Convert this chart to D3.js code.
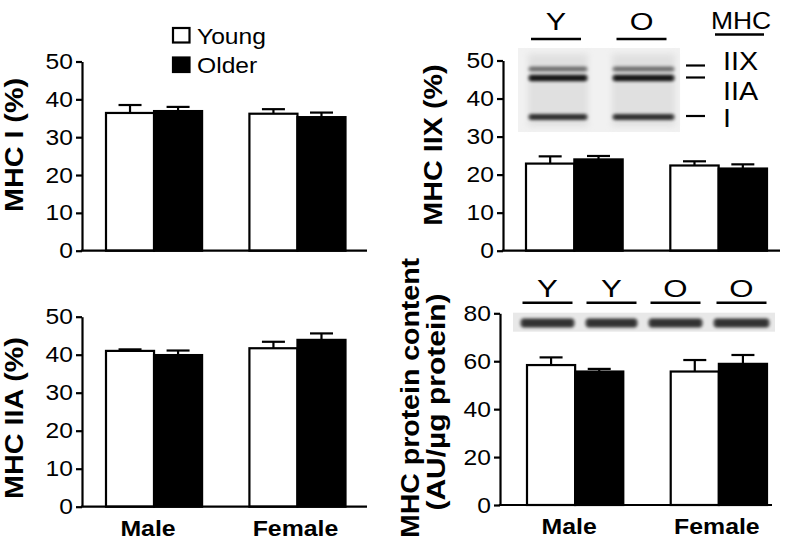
<!DOCTYPE html>
<html><head><meta charset="utf-8">
<script src="https://cdn.jsdelivr.net/npm/d3@7"></script>
<style>body{margin:0;background:#fff}svg{display:block}text{font-family:"Liberation Sans",Arial,Helvetica,sans-serif;fill:#000}</style>
</head><body><svg id="c" width="791" height="546"></svg>
<script>
// ---------- data ----------
const categories = ["Male", "Female"];
const groups = ["Young", "Older"];
const ticksPct = [0, 10, 20, 30, 40, 50];
const ticksContent = [0, 20, 40, 60, 80];

const mhcI_young = [36.4, 36.2];
const mhcI_youngSE = [2.1, 1.2];
const mhcI_older = [36.9, 35.3];
const mhcI_olderSE = [1.1, 1.2];

const mhcIIX_young = [22.9, 22.4];
const mhcIIX_youngSE = [1.9, 1.1];
const mhcIIX_older = [24.0, 21.6];
const mhcIIX_olderSE = [0.9, 1.1];

const mhcIIA_young = [41.0, 41.7];
const mhcIIA_youngSE = [0.4, 1.7];
const mhcIIA_older = [39.9, 43.9];
const mhcIIA_olderSE = [1.2, 1.7];

const content_young = [58.4, 55.7];
const content_youngSE = [3.2, 4.8];
const content_older = [55.7, 58.9];
const content_olderSE = [1.1, 3.7];

const gelTopLanes = ["Y", "O"];
const gelTopBands = ["IIX", "IIA", "I"];
const gelBottomLanes = ["Y", "Y", "O", "O"];

// ---------- helpers ----------
const svg = d3.select("#c");
const FONT = '"Liberation Sans", Arial, Helvetica, sans-serif';
function txt(x, y, s, o) {
  o = o || {};
  return svg.append("text")
    .attr("transform", `translate(${x},${y}) rotate(${o.rot || 0}) scale(${o.sx || 1.13},1)`)
    .attr("text-anchor", o.anchor || "start")
    .attr("font-size", o.size || 22)
    .attr("font-weight", o.weight || "normal")
    .text(s);
}

const defs = svg.append("defs");
defs.append("filter").attr("id", "blur").attr("x", "-20%").attr("y", "-150%").attr("width", "140%").attr("height", "400%")
  .append("feGaussianBlur").attr("stdDeviation", 1.6);
defs.append("filter").attr("id", "blur2").attr("x", "-20%").attr("y", "-20%").attr("width", "140%").attr("height", "140%")
  .append("feGaussianBlur").attr("stdDeviation", 3);
const lg = defs.append("linearGradient").attr("id", "bandGrad").attr("x1", 0).attr("x2", 1).attr("y1", 0).attr("y2", 0);
[[0, 0.55], [0.06, 1], [0.94, 1], [1, 0.55]].forEach(s => lg.append("stop").attr("offset", s[0]).attr("stop-color", "#000").attr("stop-opacity", s[1]));

function panel(p) {
  const y = d3.scaleLinear().domain([0, p.max]).range([p.y0, p.yTop]);
  const x = d3.scaleBand().domain(categories).range([p.bx0, p.bx1]).paddingInner(0.33).paddingOuter(0);
  const xs = d3.scaleBand().domain(groups).range([0, x.bandwidth()]);
  const g = svg.append("g");

  const rows = [];
  categories.forEach((c, i) => {
    rows.push({c, grp: "Young", v: p.young[i], se: p.youngSE[i]});
    rows.push({c, grp: "Older", v: p.older[i], se: p.olderSE[i]});
  });

  const eb = g.selectAll(".eb").data(rows).enter().append("g");
  eb.append("line")
    .attr("x1", d => x(d.c) + xs(d.grp) + xs.bandwidth() / 2)
    .attr("x2", d => x(d.c) + xs(d.grp) + xs.bandwidth() / 2)
    .attr("y1", d => y(d.v)).attr("y2", d => y(d.v + d.se))
    .attr("stroke", "#000").attr("stroke-width", 2.2);
  eb.append("line")
    .attr("x1", d => x(d.c) + xs(d.grp) + xs.bandwidth() / 2 - 11.5)
    .attr("x2", d => x(d.c) + xs(d.grp) + xs.bandwidth() / 2 + 11.5)
    .attr("y1", d => y(d.v + d.se)).attr("y2", d => y(d.v + d.se))
    .attr("stroke", "#000").attr("stroke-width", 2.2);

  g.selectAll(".bar").data(rows).enter().append("rect")
    .attr("x", d => x(d.c) + xs(d.grp))
    .attr("y", d => y(d.v))
    .attr("width", xs.bandwidth())
    .attr("height", d => y(0) - y(d.v))
    .attr("fill", d => d.grp === "Young" ? "#fff" : "#000")
    .attr("stroke", "#000").attr("stroke-width", 2.2);

  const ax = g.append("g").attr("transform", `translate(${p.ax},0)`)
    .call(d3.axisLeft(y).tickValues(p.ticks).tickSize(6).tickSizeOuter(0).tickPadding(3));
  ax.select(".domain").attr("stroke-width", 2.2);
  ax.selectAll(".tick line").attr("stroke-width", 2.2);
  ax.selectAll(".tick text").attr("font-size", 22).attr("font-family", FONT)
    .attr("x", -9 / 1.12).attr("transform", "scale(1.12,1)");

  g.append("line").attr("x1", p.ax - 1.1).attr("x2", p.axEnd).attr("y1", y(0)).attr("y2", y(0))
    .attr("stroke", "#000").attr("stroke-width", 2.2);

  if (p.xlabels) {
    categories.forEach(c => {
      txt(x(c) + x.bandwidth() / 2 - (c === "Male" ? 6 : 2), p.y0 + 29, c, {anchor: "middle", weight: "bold", size: 22, sx: 1.13});
    });
  }
  return {x, y, xs};
}

// ---------- panels ----------
panel({max: 50, ticks: ticksPct, y0: 250.7, yTop: 61.5, bx0: 106, bx1: 345.5, ax: 82, axEnd: 367,
  young: mhcI_young, youngSE: mhcI_youngSE, older: mhcI_older, olderSE: mhcI_olderSE});
panel({max: 50, ticks: ticksPct, y0: 250.7, yTop: 60.5, bx0: 526, bx1: 767, ax: 503, axEnd: 780,
  young: mhcIIX_young, youngSE: mhcIIX_youngSE, older: mhcIIX_older, olderSE: mhcIIX_olderSE});
panel({max: 50, ticks: ticksPct, y0: 506.7, yTop: 316.7, bx0: 106, bx1: 345.5, ax: 82, axEnd: 367, xlabels: true,
  young: mhcIIA_young, youngSE: mhcIIA_youngSE, older: mhcIIA_older, olderSE: mhcIIA_olderSE});
panel({max: 80, ticks: ticksContent, y0: 505, yTop: 313.3, bx0: 527, bx1: 767, ax: 500, axEnd: 772, xlabels: true,
  young: content_young, youngSE: content_youngSE, older: content_older, olderSE: content_olderSE});

// ---------- axis titles ----------
txt(23, 145, "MHC I (%)", {rot: -90, anchor: "middle", weight: "bold", size: 25, sx: 1.15});
txt(442, 145, "MHC IIX (%)", {rot: -90, anchor: "middle", weight: "bold", size: 25, sx: 1.15});
txt(23, 418, "MHC IIA (%)", {rot: -90, anchor: "middle", weight: "bold", size: 25, sx: 1.15});
txt(419, 398, "MHC protein content", {rot: -90, anchor: "middle", weight: "bold", size: 25, sx: 1.14});
txt(445, 402, "(AU/\u00b5g protein)", {rot: -90, anchor: "middle", weight: "bold", size: 25, sx: 1.2});

// ---------- legend ----------
groups.forEach((gname, i) => {
  const ly = 28 + i * 29.5;
  svg.append("rect").attr("x", 173).attr("y", ly).attr("width", 16.5).attr("height", 14.5)
    .attr("fill", gname === "Young" ? "#fff" : "#000").attr("stroke", "#000").attr("stroke-width", 2.2);
  txt(197, ly + 15.5, gname, {size: 22, sx: 1.12});
});

// ---------- top-right gel ----------
const gt = svg.append("g");
gt.append("rect").attr("x", 518).attr("y", 48).attr("width", 162).attr("height", 84).attr("fill", "#f1f1f1");
const laneTopX = [528, 612], laneTopW = [60, 63];
const bandTopY = [69, 78, 117], bandTopH = [5, 6.5, 6], bandTopO = [0.5, 0.9, 0.78];
gelTopLanes.forEach((l, i) => {
  gt.append("rect").attr("x", laneTopX[i]).attr("y", 54).attr("width", laneTopW[i]).attr("height", 72)
    .attr("fill", "#e0e0e0").attr("filter", "url(#blur2)");
  gelTopBands.forEach((b, j) => {
    gt.append("rect").attr("x", laneTopX[i]).attr("y", bandTopY[j] - bandTopH[j] / 2)
      .attr("width", laneTopW[i]).attr("height", bandTopH[j]).attr("rx", 3)
      .attr("fill", "url(#bandGrad)").attr("opacity", bandTopO[j]).attr("filter", "url(#blur)");
  });
  const cx = laneTopX[i] + laneTopW[i] / 2 - 2;
  txt(cx, 29.5, l, {anchor: "middle", size: 23.5, sx: 1.3});
  gt.append("line").attr("x1", cx - 25).attr("x2", cx + 25).attr("y1", 39).attr("y2", 39)
    .attr("stroke", "#000").attr("stroke-width", 2.5);
});
txt(741, 29, "MHC", {anchor: "middle", size: 23, sx: 1.15});
gt.append("line").attr("x1", 715).attr("x2", 764).attr("y1", 34.5).attr("y2", 34.5).attr("stroke", "#000").attr("stroke-width", 2.5);
const markY = [65.5, 77.5, 116];
markY.forEach(my => gt.append("line").attr("x1", 686).attr("x2", 705).attr("y1", my).attr("y2", my)
  .attr("stroke", "#000").attr("stroke-width", 2.2));
const bandLabelY = [70, 100, 127];
gelTopBands.forEach((b, j) => txt(723, bandLabelY[j], b, {size: 25, sx: 1.15}));

// ---------- bottom-right gel ----------
const gb = svg.append("g");
gb.append("rect").attr("x", 513).attr("y", 312.7).attr("width", 262).attr("height", 19).attr("fill", "#e8e8e8");
const laneBotX = [520, 585, 648, 713], laneBotW = [55, 53, 55, 57];
gelBottomLanes.forEach((l, i) => {
  gb.append("rect").attr("x", laneBotX[i]).attr("y", 318.5).attr("width", laneBotW[i]).attr("height", 9)
    .attr("rx", 4).attr("fill", "url(#bandGrad)").attr("opacity", 0.78).attr("filter", "url(#blur)");
  const cx = laneBotX[i] + laneBotW[i] / 2;
  txt(cx, 297, l, {anchor: "middle", size: 24, sx: 1.3});
  gb.append("line").attr("x1", cx - 25).attr("x2", cx + 25).attr("y1", 302.7).attr("y2", 302.7)
    .attr("stroke", "#000").attr("stroke-width", 2.5);
});
</script></body></html>
